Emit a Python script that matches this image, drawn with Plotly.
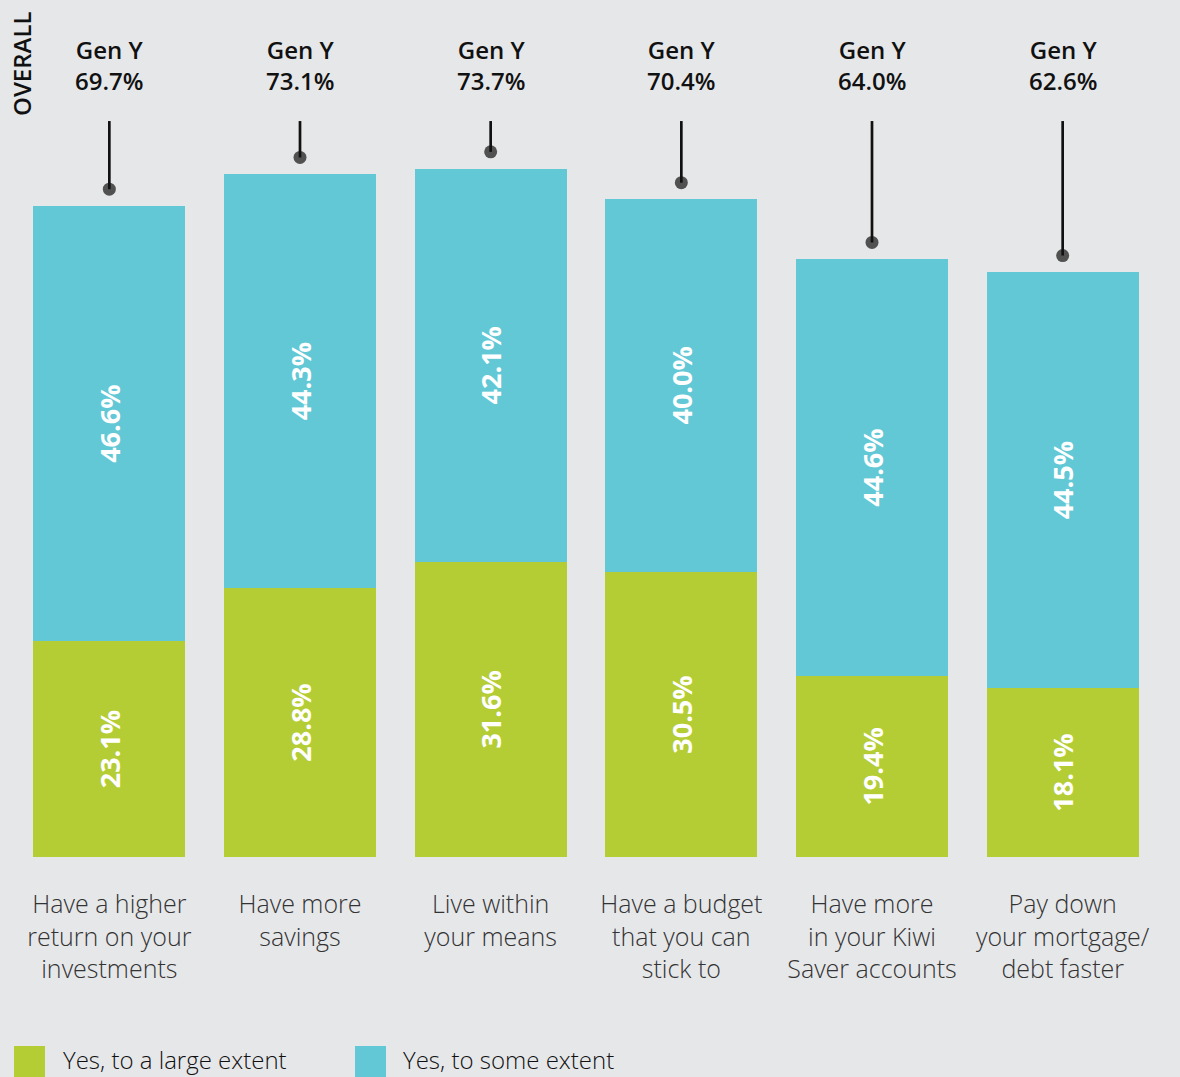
import plotly.graph_objects as go

# Survey data
categories = [
    "Have a higher<br>return on your<br>investments",
    "Have more<br>savings",
    "Live within<br>your means",
    "Have a budget<br>that you can<br>stick to",
    "Have more<br>in your Kiwi<br>Saver accounts",
    "Pay down<br>your mortgage/<br>debt faster",
]
large_extent = [23.1, 28.8, 31.6, 30.5, 19.4, 18.1]
some_extent = [46.6, 44.3, 42.1, 40.0, 44.6, 44.5]
overall_gen_y = [69.7, 73.1, 73.7, 70.4, 64.0, 62.6]
series_names = ["Yes, to a large extent", "Yes, to some extent"]

GREEN = "#b5cd34"
CYAN = "#62c8d6"
BG = "#e6e7e9"
INK = "#111111"
FONT = "Open Sans, Arial"

W, H = 1180, 1077
ML, MR, MT, MB = 14, 22, 0, 220
PW, PH = W - ML - MR, H - MT - MB
Y_TOP = 91.76
POINTER_TOP = 78.8
POINTER_GAP = 1.8


def px_x(p):
    return (p - ML) / PW


def px_y(p):
    return (MT + PH - p) / PH


fig = go.Figure()

for vals, col, name in [(large_extent, GREEN, series_names[0]),
                        (some_extent, CYAN, series_names[1])]:
    fig.add_trace(go.Bar(
        x=categories, y=vals, name=name,
        marker=dict(color=col, line=dict(width=0)),
        text=[f"{v:.1f}%" for v in vals],
        textposition="inside", insidetextanchor="middle", textangle=-90,
        textfont=dict(family=FONT, size=27, color="white", weight="bold"),
        hoverinfo="skip", showlegend=False,
    ))

# Pointer lines from the header down to each overall value
lx, ly, sizes = [], [], []
for c, v in zip(categories, overall_gen_y):
    lx += [c, c, None]
    ly += [POINTER_TOP, v + POINTER_GAP, None]
    sizes += [0, 13, 0]
fig.add_trace(go.Scatter(
    x=lx, y=ly, mode="lines+markers",
    line=dict(color=INK, width=2.7),
    marker=dict(color=INK, size=sizes, line=dict(width=0)),
    hoverinfo="skip", showlegend=False, cliponaxis=False,
))

annotations = []
for c, v in zip(categories, overall_gen_y):
    annotations.append(dict(
        x=c, y=(MT + PH - 64.5) / PH * Y_TOP, xref="x", yref="y",
        text=f"Gen Y<br>{v:.1f}%", showarrow=False,
        font=dict(family=FONT, size=24, color=INK, weight=600),
        xanchor="center", yanchor="middle", align="center",
    ))

annotations.append(dict(
    x=px_x(22), y=px_y(64), xref="paper", yref="paper",
    text="OVERALL", textangle=-90, showarrow=False,
    font=dict(family=FONT, size=24, color=INK, weight=600),
    xanchor="center", yanchor="middle",
))

# Legend swatches and labels
shapes = []
legend_items = [(14, 61, GREEN, series_names[0]), (355, 401, CYAN, series_names[1])]
for sx, tx, col, name in legend_items:
    shapes.append(dict(
        type="rect", xref="paper", yref="paper",
        x0=px_x(sx), x1=px_x(sx + 31), y0=px_y(1046), y1=px_y(1078),
        fillcolor=col, line=dict(width=0),
    ))
    annotations.append(dict(
        x=px_x(tx), y=px_y(1059), xref="paper", yref="paper",
        text=name, showarrow=False, xanchor="left", yanchor="middle",
        font=dict(family=FONT, size=24, color=INK, weight=300),
    ))

fig.update_layout(
    width=W, height=H,
    margin=dict(l=ML, r=MR, t=MT, b=MB),
    paper_bgcolor=BG, plot_bgcolor=BG,
    barmode="stack", bargap=0.203,
    annotations=annotations, shapes=shapes,
    showlegend=False,
)
fig.update_xaxes(
    showgrid=False, zeroline=False, showline=False, ticks="",
    tickfont=dict(family=FONT, size=25, color="#333333", weight=300),
    ticklabelstandoff=30,
)
fig.update_yaxes(
    range=[0, Y_TOP], showgrid=False, zeroline=False, showline=False,
    showticklabels=False, ticks="",
)

fig.write_html("out.html")
